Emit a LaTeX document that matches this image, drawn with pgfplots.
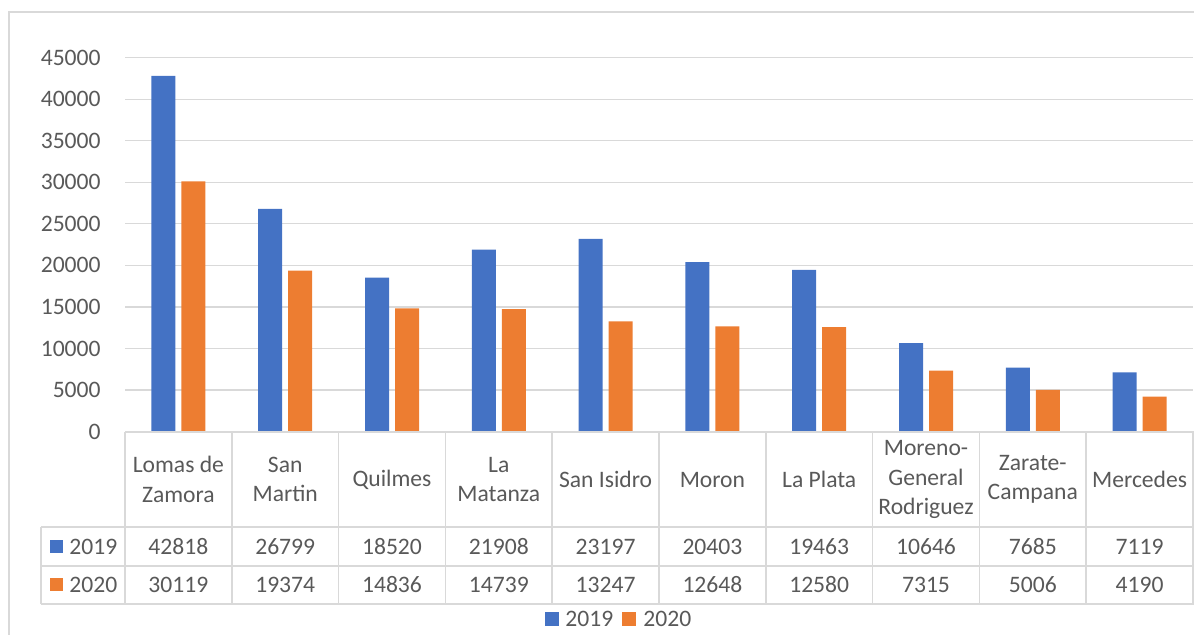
\documentclass[border=0pt]{standalone}
\usepackage{pgfplots}
\pgfplotsset{compat=1.18}
\usepackage{fontspec}
\setmainfont{Carlito}
\definecolor{cblue}{HTML}{4472C4}
\definecolor{corange}{HTML}{ED7D31}
\definecolor{cgrid}{HTML}{D9D9D9}
\definecolor{ctext}{HTML}{595959}
\begin{document}
\begin{tikzpicture}[x=1pt,y=1pt,font=\fontsize{11.8}{14.8}\selectfont\color{ctext}]
\path[use as bounding box] (0,0) rectangle (597,-317);
% outer chart border
\draw[cgrid,line width=0.75pt] (4.5,-320) -- (4.5,-6) -- (600,-6);
\begin{axis}[
  at={(62.5pt,-215.75pt)}, anchor=south west,
  scale only axis, width=534pt, height=186.9pt,
  xmin=-0.5, xmax=9.5, ymin=0, ymax=45000,
  ybar=3pt, bar width=12pt,
  axis line style={draw=none},
  major tick length=0pt,
  ytick={0,5000,...,45000},
  xtick=\empty,
  ymajorgrids, grid style={cgrid,line width=0.6pt},
  scaled y ticks=false,
  yticklabel style={inner sep=0pt, xshift=-12pt, font=\fontsize{11.8}{14}\selectfont, text=ctext},
  /pgf/number format/assume math mode=true,
  /pgf/number format/1000 sep={},
  clip=false,
]
\addplot[fill=cblue, draw=none] coordinates {(0,42818) (1,26799) (2,18520) (3,21908) (4,23197) (5,20403) (6,19463) (7,10646) (8,7685) (9,7119)};
\addplot[fill=corange, draw=none] coordinates {(0,30119) (1,19374) (2,14836) (3,14739) (4,13247) (5,12648) (6,12580) (7,7315) (8,5006) (9,4190)};
\end{axis}
% data table lines
\begin{scope}[cgrid, line width=0.75pt]
\draw (62.5,-216) -- (597,-216);
\draw (20.5,-263.5) -- (597,-263.5);
\draw (20.5,-283) -- (597,-283);
\draw (20.5,-302) -- (597,-302);
\draw (20.5,-263.5) -- (20.5,-302);
\foreach \k in {0,...,10} {\draw ({62.5+53.4*\k},-216) -- ({62.5+53.4*\k},-302);}
\end{scope}
% table content
\foreach \i/\name/\a/\b in {0/{Lomas de\\Zamora}/42818/30119, 1/{San\\Martin}/26799/19374, 2/{Quilmes}/18520/14836, 3/{La\\Matanza}/21908/14739, 4/{San Isidro}/23197/13247, 5/{Moron}/20403/12648, 6/{La Plata}/19463/12580, 7/{Moreno-\\General\\Rodriguez}/10646/7315, 8/{Zarate-\\Campana}/7685/5006, 9/{Mercedes}/7119/4190} {
  \node[align=center, text=ctext, inner sep=0pt] at ({62.5+53.4*(\i+0.5)},-239.75) {\name};
  \node[text=ctext, inner sep=0pt] at ({62.5+53.4*(\i+0.5)},-273.25) {\a};
  \node[text=ctext, inner sep=0pt] at ({62.5+53.4*(\i+0.5)},-292.5) {\b};
}
% row headers
\fill[cblue] (25,-269.8) rectangle (31.6,-276.4);
\node[anchor=west, text=ctext, inner sep=0pt] at (34.5,-273.25) {2019};
\fill[corange] (25,-289) rectangle (31.6,-295.6);
\node[anchor=west, text=ctext, inner sep=0pt] at (34.5,-292.5) {2020};
% legend
\fill[cblue] (272.5,-305.9) rectangle (279.5,-312.9);
\node[anchor=west, text=ctext, inner sep=0pt] at (282.5,-309.4) {2019};
\fill[corange] (311,-305.9) rectangle (318,-312.9);
\node[anchor=west, text=ctext, inner sep=0pt] at (321.5,-309.4) {2020};
\end{tikzpicture}
\end{document}
